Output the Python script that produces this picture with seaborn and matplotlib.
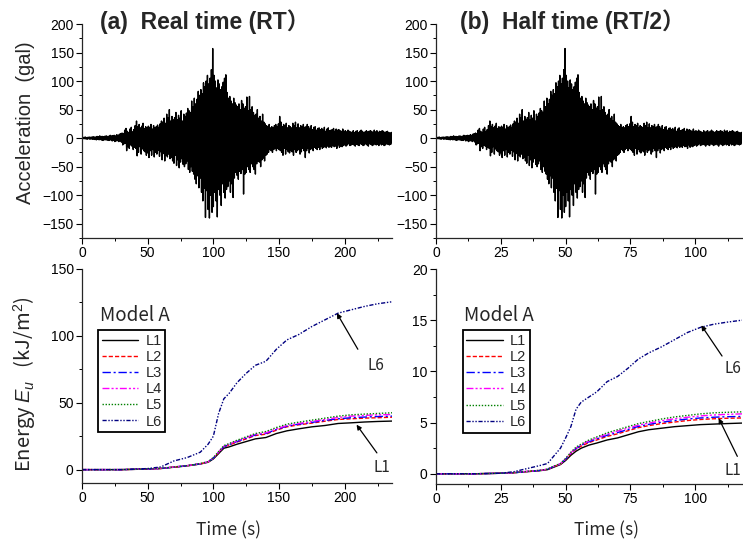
import numpy as np
import pandas as pd
import matplotlib
matplotlib.use("Agg")
import matplotlib.pyplot as plt
import seaborn as sns
from matplotlib.ticker import MultipleLocator

# ---------------- data ----------------
DT = 0.5  # sampling interval of the typed acceleration record (s)

a000 = [0, 1, -1, 1.5, -1, 2, -1.5, 1, -2, 1.5, -1, 2, -2, 1.5, -1.5, 2, -2, 2.5, -2, 2]
a010 = [-2.5, 2, -3, 3, -2, 2.5, -3, 4, -2.5, 3, -3.5, 3, -4, 2.5, -3, 3.5, -3, 4, -3.5, 3]
a020 = [-4, 3.5, -4, 5, -3, 4, -5, 4.5, -4, 5, -6, 4, -5, 6, -4.5, 5, -6, 7, -5, 8]
a030 = [-7, 9, -12, 8, -10, 14, -9, 17, -22, 12, -15, 10, -18, 16, -12, 19, -14, 11, -20, 15]
a040 = [-16, 22, -18, 30, -31, 20, -25, 24, -15, 18, -28, 21, -19, 26, -22, 17, -24, 20, -30, 18]
a050 = [-26, 21, -34, 19, -22, 24, -30, 16, -20, 22, -33, 18, -25, 20, -28, 23, -21, 19, -32, 25]
a060 = [-24, 30, -38, 28, -27, 35, -40, 26, -30, 42, -33, 36, -28, 50, -36, 30, -34, 38, -40, 32]
a070 = [-44, 36, -30, 45, -48, 32, -38, 40, -52, 35, -42, 48, -36, 30, -46, 42, -50, 38, -45, 44]
a080 = [-40, 52, -55, 48, -60, 45, -50, 65, -58, 55, -63, 70, -72, 60, -80, 68, -66, 82, -87, 75]
a090 = [-70, 85, -95, 78, -110, 97, -88, 90, -139, 100, -92, 110, -125, 95, -140, 105, -100, 120, -130, 157]
a100 = [-120, 110, -95, 100, -110, 88, -138, 102, -90, 95, -100, 85, -118, 90, -80, 98, -95, 105, -105, 111]
a110 = [-90, 80, -85, 70, -75, 73, -95, 65, -80, 60, -104, 70, -70, 62, -60, 58, -65, 55, -72, 60]
a120 = [-58, 50, -62, 66, -55, 60, -98, 52, -63, 55, -60, 72, -50, 48, -55, 73, -60, 50, -45, 55]
a130 = [-50, 45, -55, 40, -63, 42, -45, 50, -40, 35, -42, 38, -50, 30, -38, 42, -35, 28, -40, 25]
a140 = [-30, 22, -28, 20, -25, 24, -20, 18, -22, 20, -25, 18, -20, 22, -18, 24, -22, 20, -18, 25]
a150 = [-20, 38, -22, 28, -25, 20, -30, 24, -18, 22, -28, 26, -20, 18, -24, 22, -26, 20, -22, 18]
a160 = [-24, 26, -30, 22, -20, 28, -25, 18, -22, 25, -20, 18, -28, 22, -24, 20, -18, 24, -22, 19]
a170 = [-34, 20, -22, 24, -18, 20, -26, 16, -20, 22, -18, 15, -22, 19, -16, 20, -18, 14, -20, 17]
a180 = [-16, 18, -20, 15, -14, 17, -18, 14, -16, 19, -15, 12, -17, 16, -14, 18, -16, 13, -15, 14]
a190 = [-16, 15, -13, 17, -15, 12, -14, 16, -18, 14, -12, 15, -16, 13, -14, 12, -15, 16, -13, 12]
a200 = [-12, 13, -14, 11, -12, 14, -10, 12, -13, 11, -12, 10, -11, 13, -12, 10, -14, 12, -11, 13]
a210 = [-12, 10, -13, 12, -10, 14, -11, 12, -13, 10, -12, 11, -10, 13, -12, 11, -14, 12, -10, 13]
a220 = [-11, 12, -13, 10, -12, 14, -10, 11, -12, 13, -11, 10, -13, 12, -10, 11, -12, 13, -11, 12]
a230 = [-13, 10, -12, 11, -10, 12, -11, 10, -12, 9, -11, 10, -8]

acc = (a000 + a010 + a020 + a030 + a040 + a050 + a060 + a070 + a080 + a090 + a100 + a110
       + a120 + a130 + a140 + a150 + a160 + a170 + a180 + a190 + a200 + a210 + a220 + a230)

# Energy, real time
t_rt = [0, 30, 50, 60, 70, 80, 90, 96, 100, 104, 108, 112, 118, 125, 132, 140, 148, 156,
        165, 175, 185, 195, 205, 215, 225, 236]
E_rt_L1 = [0, 0, 0.4, 0.8, 1.8, 2.8, 4.2, 5.5, 8, 12, 16, 17, 19, 21, 23, 24, 27, 29,
           30.5, 32, 33, 34.5, 35, 35.6, 36, 36.3]
E_rt_L2 = [0, 0, 0.45, 0.9, 1.9, 2.9, 4.3, 5.7, 8.4, 12.8, 17, 18.4, 20.6, 23, 25.5, 26.5, 29.5, 32,
           33.5, 34.8, 36.2, 37.5, 38, 38.5, 38.8, 39.2]
E_rt_L3 = [0, 0, 0.45, 0.9, 1.9, 2.9, 4.35, 5.8, 8.6, 13, 17.2, 18.7, 21, 23.5, 26, 27, 30, 32.5,
           34, 35.3, 36.8, 38, 38.8, 39.3, 39.7, 40]
E_rt_L4 = [0, 0, 0.5, 0.95, 2, 3, 4.4, 5.9, 8.8, 13.2, 17.5, 19, 21.5, 24, 26.5, 27.5, 30.5, 33,
           34.5, 36, 37.5, 39, 40, 40.5, 41, 41.2]
E_rt_L5 = [0, 0, 0.5, 1, 2, 3, 4.5, 6, 9, 13.5, 18, 19.5, 22, 24.5, 27, 28.5, 31.5, 34,
           35.5, 37, 38.5, 40, 41, 41.5, 42, 42.5]
E_rt_L6 = [0, 0, 0.8, 2, 6.5, 9, 13, 19, 25, 42, 53, 57, 65, 72, 78, 81, 90, 97,
           101, 107, 112, 117, 119.5, 122, 124, 125.5]

# Energy, half time
t_half = [0, 15, 25, 30, 35, 40, 43, 45, 48, 50, 52, 54, 56, 59, 62, 66, 70, 74, 78, 82,
          87, 92, 97, 102, 107, 112, 118]
E_half_L1 = [0, 0, 0.05, 0.1, 0.2, 0.3, 0.4, 0.6, 0.9, 1.3, 1.8, 2.2, 2.5, 2.8, 3.0, 3.3, 3.5,
             3.8, 4.1, 4.3, 4.45, 4.6, 4.7, 4.8, 4.85, 4.9, 4.95]
E_half_L2 = [0, 0, 0.05, 0.1, 0.22, 0.32, 0.43, 0.65, 0.95, 1.4, 1.95, 2.4, 2.7, 3.05, 3.3, 3.65,
             3.9, 4.2, 4.5, 4.7, 4.9, 5.05, 5.2, 5.3, 5.37, 5.42, 5.45]
E_half_L3 = [0, 0, 0.05, 0.1, 0.22, 0.32, 0.44, 0.67, 0.97, 1.43, 2.0, 2.47, 2.78, 3.13, 3.4, 3.76,
             4.02, 4.32, 4.62, 4.82, 5.03, 5.2, 5.35, 5.45, 5.52, 5.57, 5.6]
E_half_L4 = [0, 0, 0.05, 0.1, 0.23, 0.33, 0.45, 0.68, 0.98, 1.47, 2.05, 2.53, 2.84, 3.22, 3.5, 3.88,
             4.17, 4.46, 4.75, 4.95, 5.18, 5.37, 5.52, 5.65, 5.74, 5.8, 5.85]
E_half_L5 = [0, 0, 0.05, 0.1, 0.23, 0.34, 0.45, 0.7, 1.0, 1.5, 2.1, 2.6, 2.9, 3.3, 3.6, 4.0,
             4.3, 4.6, 4.9, 5.1, 5.35, 5.55, 5.7, 5.85, 5.95, 6.0, 6.05]
E_half_L6 = [0, 0, 0.05, 0.2, 0.5, 0.8, 1.0, 1.6, 2.5, 3.5, 4.6, 6.3, 7.0, 7.5, 8.0, 9.0, 9.5,
             10.3, 11.2, 11.8, 12.4, 13.1, 13.8, 14.3, 14.6, 14.8, 15.0]

labels = ["L1", "L2", "L3", "L4", "L5", "L6"]
colors = ["#000000", "#FF0000", "#0000FF", "#FF00FF", "#008000", "#000080"]
styles = ["-", (0, (3, 1.5)), (0, (6, 2, 1.5, 2)), (0, (5, 1.5, 1.5, 1.5, 1.5, 1.5)),
          (0, (1, 1.2)), (0, (3, 1.2, 1, 1.2, 1, 1.2))]

# ---------------- style ----------------
sns.set_theme(style="ticks")
plt.rcParams["font.family"] = ["Liberation Sans", "Noto Sans CJK JP", "DejaVu Sans"]
plt.rcParams["mathtext.fontset"] = "custom"
plt.rcParams["mathtext.rm"] = "Liberation Sans"
plt.rcParams["mathtext.it"] = "Liberation Sans:italic"
plt.rcParams["axes.linewidth"] = 0.9
CJK = ["Noto Sans CJK JP", "Liberation Sans", "DejaVu Sans"]

fig = plt.figure(figsize=(7.43, 5.41), dpi=100)
W, H = 743.0, 541.0


def add_ax(l, r, t, b):
    return fig.add_axes([l / W, 1 - b / H, (r - l) / W, (b - t) / H])


ax1 = add_ax(82, 392, 24, 238)
ax2 = add_ax(436, 742, 24, 238)
ax3 = add_ax(82, 392, 269, 483)
ax4 = add_ax(436, 742, 269, 484)

t_acc = np.arange(len(acc)) * DT
acc_df = pd.DataFrame({"t": t_acc, "t_half": t_acc / 2, "acc": acc})

sns.lineplot(data=acc_df, x="t", y="acc", ax=ax1, color="black", lw=1.0,
             estimator=None, sort=False)
sns.lineplot(data=acc_df, x="t_half", y="acc", ax=ax2, color="black", lw=1.0,
             estimator=None, sort=False)

E_rt = [E_rt_L1, E_rt_L2, E_rt_L3, E_rt_L4, E_rt_L5, E_rt_L6]
E_half = [E_half_L1, E_half_L2, E_half_L3, E_half_L4, E_half_L5, E_half_L6]
for i in range(6):
    sns.lineplot(x=t_rt, y=E_rt[i], ax=ax3, color=colors[i], linestyle=styles[i],
                 lw=1.0, label=labels[i], estimator=None)
    sns.lineplot(x=t_half, y=E_half[i], ax=ax4, color=colors[i], linestyle=styles[i],
                 lw=1.0, label=labels[i], estimator=None)

for ax in (ax1, ax2, ax3, ax4):
    ax.spines["top"].set_visible(False)
    ax.spines["right"].set_visible(False)
    ax.tick_params(which="major", direction="out", length=4, width=0.8,
                   labelsize=10, colors="black", pad=2)
    ax.tick_params(which="minor", direction="out", length=2, width=0.7, colors="black")
    ax.set_xlabel("")
    ax.set_ylabel("")

for ax in (ax1, ax2):
    ax.set_ylim(-175, 200)
    ax.yaxis.set_major_locator(MultipleLocator(50))
    ax.yaxis.set_minor_locator(MultipleLocator(25))
ax1.set_xlim(0, 236)
ax2.set_xlim(0, 118)
ax3.set_xlim(0, 236)
ax4.set_xlim(0, 118)
for ax in (ax1, ax3):
    ax.xaxis.set_major_locator(MultipleLocator(50))
    ax.xaxis.set_minor_locator(MultipleLocator(25))
for ax in (ax2, ax4):
    ax.xaxis.set_major_locator(MultipleLocator(25))
    ax.xaxis.set_minor_locator(MultipleLocator(12.5))
ax3.set_ylim(-10, 150)
ax3.yaxis.set_major_locator(MultipleLocator(50))
ax3.yaxis.set_minor_locator(MultipleLocator(25))
ax4.set_ylim(-1, 20)
ax4.yaxis.set_major_locator(MultipleLocator(5))
ax4.yaxis.set_minor_locator(MultipleLocator(2.5))

# titles
ax1.text(0.058, 1.01, "(a)  Real time (RT）", transform=ax1.transAxes, fontsize=16.5,
         fontweight="bold", va="center", ha="left")
ax2.text(0.078, 1.01, "(b)  Half time (RT/2）", transform=ax2.transAxes, fontsize=16.5,
         fontweight="bold", va="center", ha="left")

# axis labels
fig.text(26 / W, 1 - 123 / H, "Acceleration  (gal)", rotation=90, fontsize=14.5,
         ha="center", va="center")
fig.text(25 / W, 1 - 384 / H, "Energy $E_u$   (kJ/m$^2$)", rotation=90, fontsize=14.5,
         ha="center", va="center", family=CJK)
fig.text(228 / W, 1 - 530 / H, "Time (s)", fontsize=12.5, ha="center", va="center", family=CJK)
fig.text(606 / W, 1 - 530 / H, "Time (s)", fontsize=12.5, ha="center", va="center", family=CJK)

# legends
for ax, lx, ly, mx, my in ((ax3, 0.052, 0.715, 0.058, 0.785), (ax4, 0.087, 0.715, 0.093, 0.785)):
    leg = ax.legend(loc="upper left", bbox_to_anchor=(lx, ly), frameon=True, fancybox=False,
                    edgecolor="black", handlelength=2.5, handletextpad=0.5, labelspacing=0.15,
                    borderpad=0.25, borderaxespad=0,
                    prop={"family": "Liberation Sans", "size": 10.5})
    leg.get_frame().set_linewidth(1.3)
    leg.get_frame().set_alpha(1)
    ax.text(mx, my, "Model A", transform=ax.transAxes, fontsize=13.5, ha="left",
            va="center", family=CJK)

arrow = dict(arrowstyle="-|>", color="black", lw=0.9, mutation_scale=7, shrinkA=0, shrinkB=0)
ax3.annotate("", xy=(194, 117), xytext=(210, 90), arrowprops=arrow)
ax3.text(224, 78, "L6", fontsize=11, ha="center", va="center", family=CJK)
ax3.annotate("", xy=(209, 33.6), xytext=(224.5, 12.5), arrowprops=arrow, annotation_clip=False)
ax3.text(228, 1.7, "L1", fontsize=11, ha="center", va="center", family=CJK, clip_on=False)

ax4.annotate("", xy=(102.3, 14.5), xytext=(110.3, 11.5), arrowprops=arrow)
ax4.text(117.7, 10.3, "L6", fontsize=11, ha="right", va="center", family=CJK, clip_on=False)
ax4.annotate("", xy=(109, 5.43), xytext=(116.2, 1.7), arrowprops=arrow, annotation_clip=False)
ax4.text(117.9, 0.3, "L1", fontsize=11, ha="right", va="center", family=CJK, clip_on=False)

fig.savefig("out.png", dpi=100)
